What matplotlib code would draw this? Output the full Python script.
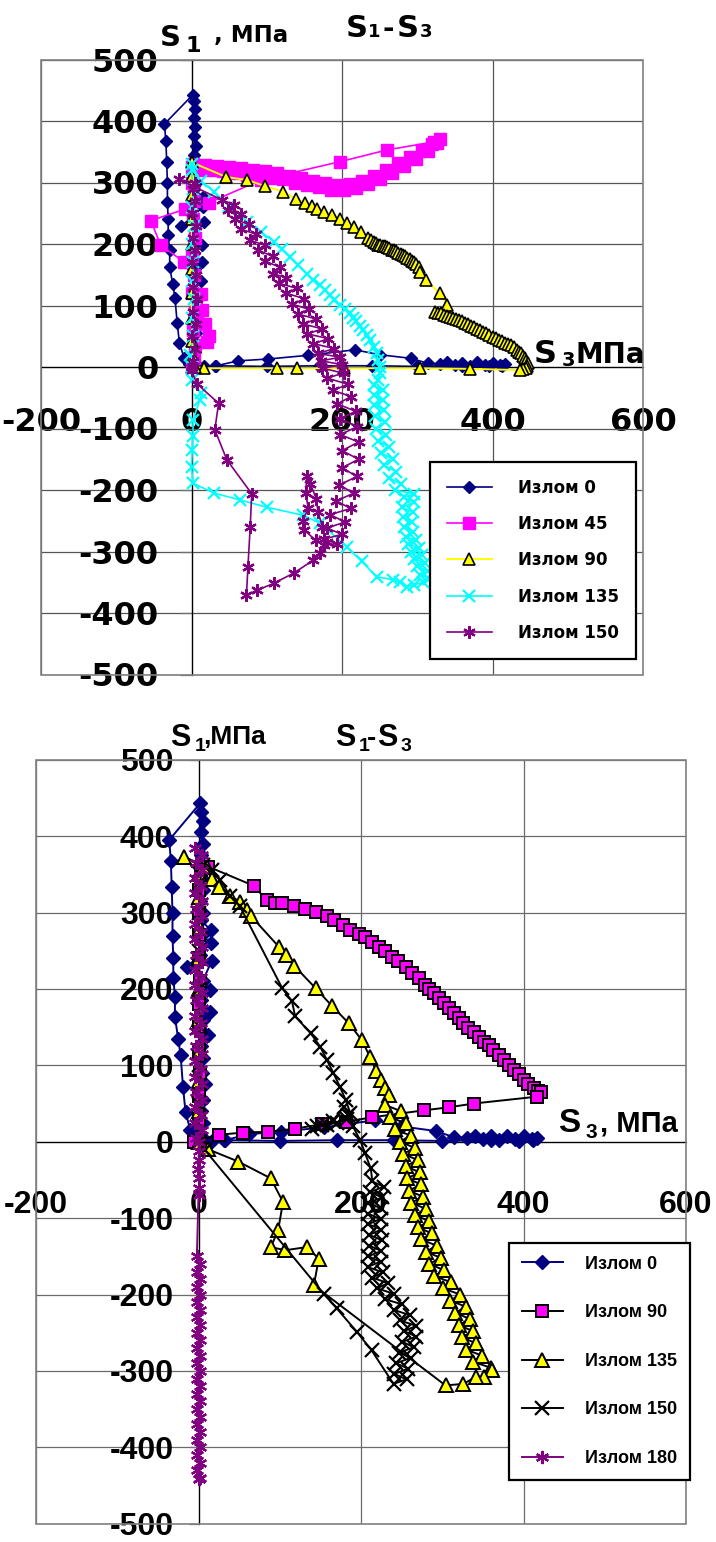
import matplotlib
matplotlib.use('Agg')
import matplotlib.pyplot as plt
from matplotlib import font_manager as fm
from matplotlib.patches import Rectangle
from matplotlib.font_manager import FontProperties

# ---------------- DATA ----------------
x_ticks = [-200, 0, 200, 400, 600]
y_ticks = [-500, -400, -300, -200, -100, 0, 100, 200, 300, 400, 500]

labels_top = ['Излом 0', 'Излом 45', 'Излом 90', 'Излом 135', 'Излом 150']
labels_bot = ['Излом 0', 'Излом 90', 'Излом 135', 'Излом 150', 'Излом 180']

# Излом 0 (same in both charts)
izl0_s3 = [0, 2, 5, 3, 6, 2, 8, 4, 6, 3, 12, 5, 14, 3, 14, 5, 16, -14, 2, 15, 4, 15, 3, 6, 2, 5, 3, 6, 3, 5, 3, 5, 3, 2,
           -36, -34, -33, -32, -32, -31, -31, -29, -29, -25, -22, -19, -16, -10, -3, 5,
           16, 33, 62, 102, 155, 217, 250, 292, 314, 330, 340, 350, 360, 370, 380, 390, 400, 410, 417, 412, 395, 360,
           300, 240, 170, 100, 31, 10]
izl0_s1 = [0, 10, 25, 40, 55, 70, 76, 90, 110, 125, 140, 159, 170, 185, 199, 210, 236, 229, 245, 260, 270, 277, 290, 300,
           315, 330, 345, 360, 375, 390, 405, 420, 432, 443,
           395, 367, 334, 300, 269, 240, 214, 190, 163, 135, 113, 71, 39, 15, 5, 2,
           1, 2, 10, 13, 19, 28, 20, 14, 6, 5, 8, 3, 7, 2, 8, 3, 7, 4, 5, 2, 1, 2, 1, 2, 2, 1, 2, 0]

# top chart: Излом 45
t45_s3 = [0, 3, 5, 2, 4, 1, 3, 1, 4, 2, 3, 1, 0,
          2, 10, 18, 26, 34, 42, 50, 58, 66, 74, 82, 90, 98, 106, 114, 122, 130, 138, 146, 154, 162, 170, 178, 186,
          194, 202, 210, 218, 226, 234, 242, 250, 258, 266, 274, 282, 290, 298, 306, 314, 320, 326, 330,
          322, 260, 198, 92, 23, -8, -54, -41, -10, 12, 14, 18, 23, 20]
t45_s1 = [0, 15, 35, 60, 90, 120, 150, 180, 210, 240, 270, 300, 325,
          330, 321, 329, 320, 327, 318, 325, 316, 323, 313, 321, 311, 318, 308, 315, 305, 311, 300, 307, 296, 303, 292,
          299, 288, 296, 287, 297, 291, 303, 297, 311, 305, 321, 316, 331, 327, 342, 339, 353, 351, 362, 364, 371,
          366, 353, 334, 304, 267, 257, 238, 198, 171, 119, 92, 70, 51, 40]

# top chart: Излом 90
t90_s3 = [0, 1, 1, 0, 1, 0, 1, 0, 1, 0, 0,
          46, 74, 98, 122, 139, 151, 160, 167, 176, 187, 197, 207, 216, 225,
          234, 238, 242, 245, 248, 251, 254, 257, 260, 263, 266, 269, 272, 275, 278, 281, 284, 287, 290, 293,
          296, 299, 302,
          304, 311, 330, 339,
          324, 328, 331, 335, 340, 344, 348, 352, 356, 360, 364, 368, 372, 376, 380, 384, 388, 392, 396, 400,
          404, 408, 412, 416, 420, 424, 428, 432, 435, 438, 441, 443, 445, 447, 446, 444, 440, 436,
          370, 304, 202, 140, 113, 16, 5]
t90_s1 = [0, 20, 43, 80, 120, 160, 200, 240, 280, 310, 333,
          309, 304, 294, 285, 273, 267, 261, 257, 252, 247, 241, 234, 228, 220,
          210, 206, 203, 201, 199, 198, 197, 196, 195, 193, 191, 190, 188, 186, 184, 182, 180, 177, 175, 173,
          171, 168, 162,
          154, 141, 120, 101,
          90, 88, 87, 85, 83, 81, 80, 78, 76, 74, 72, 70, 67, 65, 62, 60, 57, 55, 52, 49,
          47, 44, 42, 39, 37, 35, 33, 28, 25, 22, 18, 14, 10, 6, 2, -2, -4, -5,
          -3, -2, -2, -2, -2, -2, 0]

# top chart: Излом 135
t135_s3 = [0, -2, 2, 0, 3, 1, 2, 0, 3, 1, 2, 0, 0,
           12, 30, 50, 74, 92, 109, 120, 131, 142, 153, 162, 171, 178, 184, 190, 197, 204, 211, 215, 219,
           224, 228, 233, 237, 242, 246, 248, 250, 250, 248,
           242, 254, 242, 254, 243, 256, 244, 257, 245, 258, 248, 262, 252, 268, 256, 272, 262, 278, 270, 296,
           282, 296, 280, 294, 281, 293, 282, 294, 285, 298, 288, 302, 292, 306, 296, 310, 300, 314, 304, 316, 308,
           296, 286, 277, 268, 246, 226, 206, 171, 148, 100, 64, 30, 2, 0, 1, 2, 2, 11, 13, 0, 0]
t135_s1 = [0, 20, 50, 80, 110, 140, 170, 200, 230, 260, 290, 320, 330,
           303, 285, 262, 236, 220, 204, 192, 179, 166, 152, 142, 133, 125, 117, 109, 101, 94, 87, 80, 74,
           67, 60, 52, 44, 33, 22, 11, 0, -10, -21,
           -30, -38, -46, -54, -62, -70, -80, -90, -100, -110, -120, -130, -140, -150, -160, -170, -180, -190, -200, -206,
           -212, -220, -228, -236, -244, -252, -260, -268, -276, -282, -288, -294, -300, -306, -312, -318, -324, -332,
           -338, -344, -350,
           -354, -357, -350, -346, -341, -316, -292, -254, -241, -228, -216, -205, -189, -162, -135, -113, -86, -54,
           -43, -21, 0]

# top chart: Излом 150
t150_s3 = [0, 2, 5, 1, 6, 2, 7, 2, 6, 1, 5, 2, 6, 1, 5, 2, 4, -17,
           40, 56, 48, 66, 58, 76, 66, 86, 78, 98, 88, 108, 98, 118, 108, 126, 116, 140, 126, 150, 134, 156,
           142, 166, 148, 174, 154, 182, 162, 190, 168, 198, 172, 200, 174, 202, 180, 208, 188, 212, 194, 218,
           198, 220, 198, 222, 200, 222, 200, 220, 196, 216, 192, 212, 184, 204, 180, 200, 176, 194,
           176, 165, 150, 148, 155, 152, 153, 158, 166, 168, 174, 180, 171, 162, 136, 109, 87, 73, 75, 78, 80,
           47, 31, 36, 7, 0]
t150_s1 = [0, 10, 30, 50, 70, 90, 110, 130, 150, 170, 190, 210, 230, 250, 270, 290, 300, 305,
           272, 264, 256, 248, 240, 232, 224, 216, 206, 198, 190, 180, 172, 162, 152, 145, 136, 128, 120, 111, 102, 94,
           86, 78, 70, 62, 54, 46, 38, 30, 22, 16, 10, 4, -2, -10, -18, -28, -38, -48, -60, -72,
           -84, -97, -110, -122, -136, -150, -164, -178, -192, -205, -218, -230, -240, -252, -262, -272, -280, -287,
           -290, -282, -265, -250, -230, -205, -178, -190, -215, -235, -260, -285, -303, -314, -335, -352, -363, -371,
           -325, -260, -206, -151, -102, -59, -27, -5]

# bottom chart: Излом 90
b90_s3 = [0, 1, 0, 2, 0, 1, 0, 2, 0, 1, 0, 1, 3, 12,
          68, 84, 94, 103, 117, 131, 145, 158, 167, 178, 187, 197, 205, 213, 222, 230, 238, 246, 255, 263,
          271, 279, 284, 290, 296, 302, 308, 314, 320, 326, 332, 339, 345, 351, 357, 363, 370, 376, 382, 388,
          394, 400, 406, 413, 418, 421, 417,
          339, 308, 277, 214, 181, 152, 119, 86, 55, 25, -5]
b90_s1 = [0, 30, 60, 90, 120, 150, 180, 210, 240, 270, 300, 330, 355, 360,
          335, 316, 312, 312, 308, 304, 301, 296, 290, 283, 277, 272, 268, 262, 255, 249, 242, 236, 229, 221,
          214, 205, 200, 194, 188, 181, 175, 168, 162, 155, 149, 143, 137, 131, 126, 120, 114, 107, 100, 94,
          88, 81, 76, 70, 66, 65, 59,
          50, 45, 41, 32, 26, 23, 17, 13, 12, 9, 0]

# bottom chart: Излом 135
b135_s3 = [0, 1, 0, 2, 0, 1, 0, 2, 0, 1, -18,
           10, 16, 25, 39, 51, 60, 64, 99, 108, 118, 144, 164, 185, 201, 211, 219, 224, 230, 234,
           230, 249, 236, 255, 242, 261, 248, 266, 252, 270, 255, 272, 257, 274, 259, 276, 262, 280, 266, 284,
           270, 287, 274, 293, 280, 298, 284, 302, 290, 311, 301, 322, 310, 329, 316, 334, 320, 338, 324, 342,
           329, 349, 338, 360,
           361, 351, 341, 326, 304,
           142, 148, 133, 107, 89, 98, 104, 89, 49, 12, 0]
b135_s1 = [0, 40, 80, 120, 160, 200, 240, 280, 320, 350, 373,
           360, 344, 333, 322, 314, 303, 296, 255, 244, 230, 201, 178, 155, 133, 111, 92, 81, 70, 61,
           48, 40, 32, 24, 16, 8, 0, -8, -16, -24, -32, -40, -48, -56, -64, -72, -80, -88, -96, -104,
           -112, -120, -128, -136, -144, -152, -160, -168, -176, -184, -192, -200, -208, -216, -224, -232, -240, -248,
           -256, -264, -272, -280, -288, -296,
           -299, -308, -308, -317, -319,
           -188, -153, -138, -142, -138, -116, -79, -48, -26, -10, 0]

# bottom chart: Излом 150
b150_s3 = [0, 1, 0, 2, 0, 1, 0, 2, 5,
           16, 27, 39, 51, 103, 115, 119, 138, 150, 158, 166, 174, 181, 187, 183, 170, 158, 146, 140, 152,
           165, 179, 184, 190, 199, 205, 212,
           214, 228, 211, 226, 209, 224, 208, 224, 209, 225, 210, 226, 210, 225, 209, 224, 208, 227, 214, 233,
           220, 240, 229, 251, 240, 260, 248, 268, 253, 268, 251, 265, 247, 261, 243, 258, 241, 256, 240,
           213, 195, 170, 154, 8, 0]
b150_s1 = [0, 50, 100, 150, 200, 250, 300, 340, 362,
           356, 343, 321, 308, 201, 184, 164, 142, 124, 107, 90, 72, 55, 37, 30, 25, 22, 20, 17, 22,
           27, 46, 35, 20, 2, -15, -35,
           -52, -59, -66, -73, -80, -87, -94, -101, -108, -115, -122, -129, -136, -143, -150, -157, -164, -171, -178, -185,
           -192, -199, -206, -213, -220, -227, -234, -241, -248, -255, -262, -269, -276, -283, -290, -297, -304, -311, -317,
           -273, -249, -218, -199, -11, 0]

# bottom chart: Излом 180
b180_s3 = [-4, 4, -3, 4, -4, 3, -4, 4, -3, 4, -4, 3, -4, 4, -3, 4, -4, 3, -4, 4, -3, 4, -4, 3, -4, 4, -3, 4, -4, 3,
           -4, 4, -3, 4, -4, 3, -4, 4, -3, 0,
           0, 1, -1, 0, 1, 0,
           -2, 2, -2, 2, -2, 2, -2, 2, -2, 2, -2, 2, -2, 2, -2, 2, -2, 2, -2, 2, -2, 2, -2, 2, -2, 2, -2, 2, -2, 2, 0]
b180_s1 = [385, 375, 365, 355, 345, 335, 325, 315, 305, 295, 285, 275, 265, 255, 245, 235, 225, 215, 205, 195,
           185, 175, 165, 155, 145, 135, 125, 115, 105, 95, 85, 75, 65, 55, 45, 35, 25, 15, 5, 0,
           -12, -24, -36, -48, -60, -70,
           -150, -160, -170, -180, -190, -200, -210, -220, -230, -240, -250, -260, -270, -280, -290, -300, -310,
           -320, -330, -340, -350, -360, -370, -380, -390, -400, -410, -420, -430, -440, -442]

# ---------------- STYLE ----------------
names = {f.name for f in fm.fontManager.ttflist}
NARROW = 'Liberation Sans Narrow' if 'Liberation Sans Narrow' in names else 'Liberation Sans'
WIDE = 'DejaVu Sans'

NAVY = '#000080'
MAG = '#FF00FF'
YEL = '#FFFF00'
CYAN = '#00FFFF'
PURP = '#800080'
AST = (6, 2, 0)

W, H = 716, 1542
fig = plt.figure(figsize=(W / 100, H / 100), dpi=100)


def fx(px):
    return px / W


def fy(py):
    return 1 - py / H


def setup(ax, font, fsize, ylen, ypad, xpad, gridcolor):
    ax.set_xlim(-200, 600)
    ax.set_ylim(-500, 500)
    ax.spines['left'].set_position(('data', 0))
    ax.spines['bottom'].set_position(('data', 0))
    for s in ('top', 'right'):
        ax.spines[s].set_visible(False)
    for s in ('left', 'bottom'):
        ax.spines[s].set_color('black')
        ax.spines[s].set_linewidth(0.9)
    ax.set_xticks(x_ticks)
    ax.set_yticks(y_ticks)
    ax.set_xticklabels([str(v) for v in x_ticks], fontfamily=font, fontweight='bold', fontsize=fsize)
    ax.set_yticklabels([str(v) for v in y_ticks], fontfamily=font, fontweight='bold', fontsize=fsize)
    ax.tick_params(axis='y', direction='out', length=ylen, pad=ypad, width=0.9, color='#707070')
    ax.tick_params(axis='x', length=0, pad=xpad)
    ax.grid(True, color=gridcolor, lw=0.9)
    ax.set_axisbelow(True)
    ax.add_patch(Rectangle((0, 0), 1, 1, transform=ax.transAxes, fill=False, ec='#808080', lw=1.2,
                           clip_on=False, zorder=5))


def t(x, y, s, size, font):
    fig.text(fx(x), fy(y), s, fontsize=size, fontfamily=font, fontweight='bold', ha='left', va='baseline')


# ---------------- TOP CHART ----------------
ax1 = fig.add_axes([fx(41), fy(674.5), fx(602), 615 / H])
setup(ax1, WIDE, 23, 8.3, 15.5, 29, '#555555')

h = []
h += ax1.plot(izl0_s3, izl0_s1, color=NAVY, lw=1.2, marker='D', ms=6.3, mfc=NAVY, mec=NAVY, zorder=3)
h += ax1.plot(t45_s3, t45_s1, color=MAG, lw=1.2, marker='s', ms=8, mfc=MAG, mec=MAG, zorder=3)
h += ax1.plot(t90_s3, t90_s1, color=YEL, lw=1.4, marker='^', ms=8.5, mfc=YEL, mec='black', mew=1.2, zorder=3)
h += ax1.plot(t135_s3, t135_s1, color=CYAN, lw=1.2, marker='x', ms=8.5, mec=CYAN, mew=1.6, zorder=3)
h += ax1.plot(t150_s3, t150_s1, color=PURP, lw=1.2, marker=AST, ms=9, mec=PURP, mew=1.6, zorder=3)

leg1 = ax1.legend(h, labels_top, loc='upper left', bbox_to_anchor=(fx(430), fy(462)),
                  bbox_transform=fig.transFigure,
                  prop=FontProperties(family=WIDE, weight='bold', size=12),
                  frameon=True, fancybox=False, edgecolor='black', framealpha=1,
                  borderpad=1.0, labelspacing=1.1, handlelength=2.7, handletextpad=1.6,
                  borderaxespad=0, numpoints=1)
leg1.get_frame().set_linewidth(1.6)
leg1.set_zorder(10)

t(160, 46, 'S', 21, WIDE)
t(186, 52, '1', 16, WIDE)
t(214, 42, ', МПа', 16.5, WIDE)
t(346, 37, 'S', 22, WIDE)
t(368, 37, '1', 13, WIDE)
t(382, 37, '-', 20, WIDE)
t(397, 37, 'S', 22, WIDE)
t(420, 37, '3', 13, WIDE)
t(534, 363, 'S', 23, WIDE)
t(562, 366, '3', 14, WIDE)
t(576, 363, 'МПа', 20, WIDE)

# ---------------- BOTTOM CHART ----------------
ax2 = fig.add_axes([fx(36), fy(1523.7), fx(650), 764 / H])
setup(ax2, NARROW, 23, 7.2, 10.8, 34.5, '#6a6a6a')

g = []
g += ax2.plot(izl0_s3, izl0_s1, color=NAVY, lw=1.4, marker='D', ms=7, mfc=NAVY, mec=NAVY, zorder=3)
g += ax2.plot(b90_s3, b90_s1, color='black', lw=1.4, marker='s', ms=9, mfc=MAG, mec='black', mew=1.4, zorder=3)
g += ax2.plot(b135_s3, b135_s1, color='black', lw=1.4, marker='^', ms=9.5, mfc=YEL, mec='black', mew=1.4, zorder=3)
g += ax2.plot(b150_s3, b150_s1, color='black', lw=1.4, marker='x', ms=9.5, mec='black', mew=1.6, zorder=3)
g += ax2.plot(b180_s3, b180_s1, color=PURP, lw=1.4, marker=AST, ms=9.5, mec=PURP, mew=1.6, zorder=3)

leg2 = ax2.legend(g, labels_bot, loc='upper left', bbox_to_anchor=(fx(509), fy(1243)),
                  bbox_transform=fig.transFigure,
                  prop=FontProperties(family='Liberation Sans', weight='bold', size=13),
                  frameon=True, fancybox=False, edgecolor='black', framealpha=1,
                  borderpad=0.7, labelspacing=1.75, handlelength=2.3, handletextpad=1.2,
                  borderaxespad=0, numpoints=1)
leg2.get_frame().set_linewidth(1.6)
leg2.set_zorder(10)

t(170, 746, 'S', 22, NARROW)
t(195, 751, '1', 14, NARROW)
t(203, 744, ',МПа', 19, NARROW)
t(335, 746, 'S', 22, NARROW)
t(359, 751, '1', 14, NARROW)
t(367, 746, '-', 20, NARROW)
t(377, 746, 'S', 22, NARROW)
t(401, 751, '3', 14, NARROW)
t(558, 1132, 'S', 24, NARROW)
t(586, 1138, '3', 15, NARROW)
t(600, 1132, ', МПа', 21, NARROW)

fig.savefig('out.png', dpi=100)
